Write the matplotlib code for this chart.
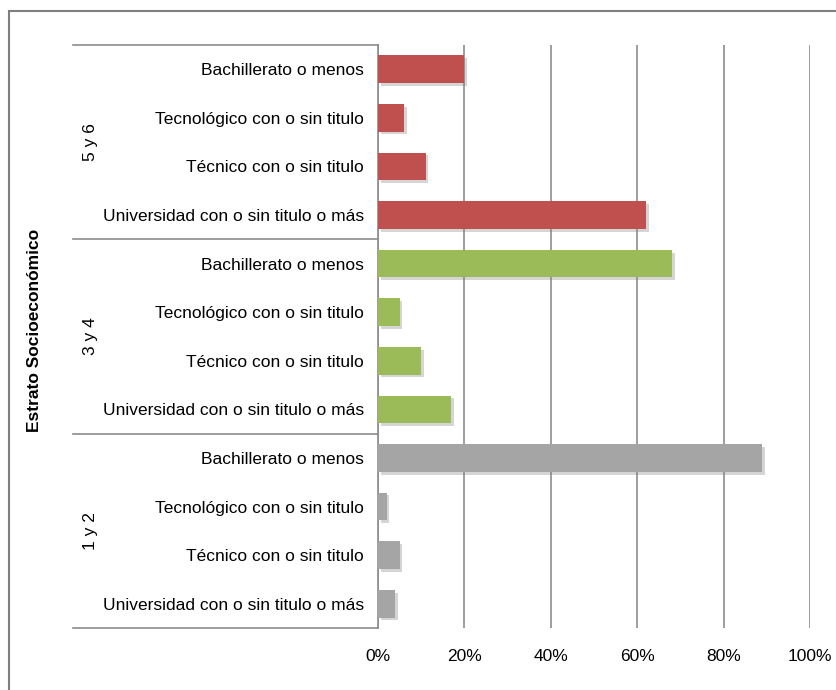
import numpy as np
import matplotlib
matplotlib.use('Agg')
from matplotlib import pyplot as plt
from matplotlib import patheffects
from matplotlib.patches import Rectangle
from matplotlib.transforms import blended_transform_factory

plt.rcParams['font.family'] = ['Liberation Sans', 'DejaVu Sans']

# datos
grupos = ['5 y 6', '3 y 4', '1 y 2']
niveles = ['Bachillerato o menos', 'Tecnológico con o sin titulo',
           'Técnico con o sin titulo', 'Universidad con o sin titulo o más']
estrato_56 = [20, 6, 11, 62]
estrato_34 = [68, 5, 10, 17]
estrato_12 = [89, 2, 5, 4]
colores = ['#C0504D', '#9BBB59', '#A5A5A5']
xticks = [0, 20, 40, 60, 80, 100]

fig = plt.figure(figsize=(8.36, 6.9), dpi=100)
ax = fig.add_axes([378/836, 1 - 628/690, 432/836, 583/690])

sombra = [patheffects.SimplePatchShadow(offset=(2, -2), shadow_rgbFace='#888888', alpha=0.35),
          patheffects.Normal()]

pos = 0
etiquetas = []
for valores, color in zip([estrato_56, estrato_34, estrato_12], colores):
    y = np.arange(pos, pos + len(valores))
    barras = ax.barh(y, valores, height=0.57, color=color, zorder=3)
    for b in barras:
        b.set_path_effects(sombra)
    etiquetas += niveles
    pos += len(valores)

ax.set_ylim(pos - 0.5, -0.5)
ax.set_xlim(0, 100)
ax.set_yticks(np.arange(pos))
ax.set_yticklabels(etiquetas, fontsize=12.5)
ax.set_xticks(xticks)
ax.set_xticklabels([f'{t}%' for t in xticks], fontsize=12.5)
ax.tick_params(axis='both', length=0)
ax.tick_params(axis='x', pad=15)
ax.tick_params(axis='y', pad=10)

ax.grid(axis='x', color='#8C8C8C', linewidth=1.2, zorder=0)
for s in ['top', 'right', 'bottom']:
    ax.spines[s].set_visible(False)
ax.spines['left'].set_color('#8C8C8C')
ax.spines['left'].set_linewidth(1.2)

# lineas separadoras de grupos y etiquetas de grupo
tr = blended_transform_factory(ax.transAxes, ax.transData)
x0 = (73 - 378) / 432
for yb in [-0.5, 3.5, 7.5, 11.5]:
    ax.plot([x0, 0], [yb, yb], color='#8C8C8C', lw=1.2, transform=tr, clip_on=False)
for i, g in enumerate(grupos):
    ax.text((90 - 378) / 432, 4 * i + 1.5, g, rotation=90, ha='center', va='center',
            fontsize=12.5, transform=tr)

fig.text(35/836, 1 - 330/690, 'Estrato Socioeconómico', rotation=90, ha='center',
         va='center', fontsize=12.5, fontweight='bold')

# marco
fig.patches.append(Rectangle((9/836, -0.02), 1.05, 1 - 11/690 + 0.02, fill=False,
                             edgecolor='#7F7F7F', linewidth=1.5, transform=fig.transFigure))

fig.savefig('out.png', dpi=100)
